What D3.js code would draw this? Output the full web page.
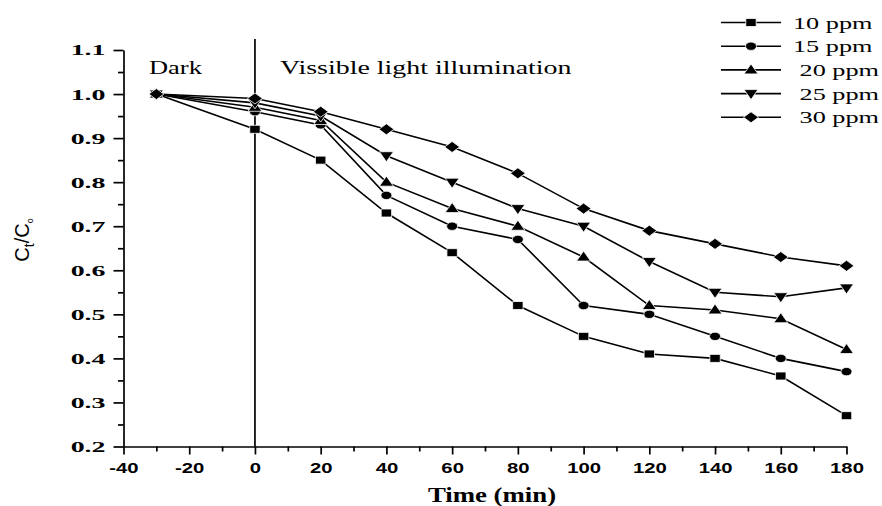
<!DOCTYPE html>
<html>
<head>
<meta charset="utf-8">
<script src="https://cdn.jsdelivr.net/npm/d3@7"></script>
<style>
  body { margin: 0; background: #fff; }
  svg { display: block; }
  text { fill: #000; }
</style>
</head>
<body>
<svg id="chart" width="882" height="506"></svg>
<script>
// Sampling times (min); -30 is the dark adsorption step
const times = [-30, 0, 20, 40, 60, 80, 100, 120, 140, 160, 180];

// Ct/C0 for each initial dye concentration
const ppm10 = [1.00, 0.92, 0.85, 0.73, 0.64, 0.52, 0.45, 0.41, 0.40, 0.36, 0.27];
const ppm15 = [1.00, 0.96, 0.93, 0.77, 0.70, 0.67, 0.52, 0.50, 0.45, 0.40, 0.37];
const ppm20 = [1.00, 0.97, 0.94, 0.80, 0.74, 0.70, 0.63, 0.52, 0.51, 0.49, 0.42];
const ppm25 = [1.00, 0.98, 0.95, 0.86, 0.80, 0.74, 0.70, 0.62, 0.55, 0.54, 0.56];
const ppm30 = [1.00, 0.99, 0.96, 0.92, 0.88, 0.82, 0.74, 0.69, 0.66, 0.63, 0.61];

const seriesNames = ["10 ppm", "15 ppm", " 20 ppm", " 25 ppm", " 30 ppm"];
const seriesValues = [ppm10, ppm15, ppm20, ppm25, ppm30];
const seriesSymbols = ["square", "circle", "triangleUp", "triangleDown", "diamond"];

const xTickValues = [-40, -20, 0, 20, 40, 60, 80, 100, 120, 140, 160, 180];
const xMinorValues = [-30, -10, 10, 30, 50, 70, 90, 110, 130, 150, 170];
const yTickValues = [0.2, 0.3, 0.4, 0.5, 0.6, 0.7, 0.8, 0.9, 1.0, 1.1];
const yMinorValues = [0.25, 0.35, 0.45, 0.55, 0.65, 0.75, 0.85, 0.95, 1.05];

const svg = d3.select("#chart");
const serif = "'Liberation Serif', 'Times New Roman', serif";
const sans = "'Liberation Sans', Arial, sans-serif";

const x = d3.scaleLinear().domain([-40, 180]).range([123.5, 846.5]);
const y = d3.scaleLinear().domain([0.2, 1.1]).range([446.5, 50]);

// Marker outlines, centred on the data point
const symbolPath = {
  square: "M-5.2,-4h10.4v8h-10.4Z",
  circle: "M-5.5,0a5.5,4.2 0 1,0 11,0a5.5,4.2 0 1,0 -11,0Z",
  triangleUp: "M0,-6L7,4L-7,4Z",
  triangleDown: "M0,6L7,-4L-7,-4Z",
  diamond: "M0,-5.5L7.5,0L0,5.5L-7.5,0Z"
};

// ---- x axis ----
const gx = svg.append("g")
  .attr("transform", `translate(0,${y(0.2)})`)
  .call(d3.axisBottom(x).tickValues(xTickValues).tickSize(8).tickSizeOuter(0).tickFormat(d => String(d)));
gx.select(".domain").attr("stroke-width", 1.7);
gx.selectAll(".tick line").attr("stroke-width", 1.7);
gx.selectAll(".tick text")
  .attr("font-family", sans).attr("font-weight", "bold").attr("font-size", 14)
  .attr("y", 0).attr("dy", 0)
  .attr("transform", "translate(0,26.5) scale(1.45,1)");

const gxMinor = svg.append("g")
  .attr("transform", `translate(0,${y(0.2)})`)
  .call(d3.axisBottom(x).tickValues(xMinorValues).tickSize(5).tickFormat(""));
gxMinor.select(".domain").remove();
gxMinor.selectAll(".tick line").attr("stroke-width", 1.7);

// ---- y axis ----
const gy = svg.append("g")
  .attr("transform", `translate(${x(-40)},0)`)
  .call(d3.axisLeft(y).tickValues(yTickValues).tickSize(10).tickSizeOuter(0).tickFormat(d3.format(".1f")));
gy.select(".domain").attr("stroke-width", 1.7);
gy.selectAll(".tick line").attr("stroke-width", 1.7);
gy.selectAll(".tick text")
  .attr("font-family", serif).attr("font-weight", "bold").attr("font-size", 15.5)
  .attr("x", 0).attr("text-anchor", "end")
  .attr("transform", "translate(-18,0) scale(1.8,1)");

const gyMinor = svg.append("g")
  .attr("transform", `translate(${x(-40)},0)`)
  .call(d3.axisLeft(y).tickValues(yMinorValues).tickSize(5.5).tickFormat(""));
gyMinor.select(".domain").remove();
gyMinor.selectAll(".tick line").attr("stroke-width", 1.7);

// ---- dark / light divider at t = 0 ----
svg.append("line")
  .attr("x1", x(0)).attr("x2", x(0))
  .attr("y1", 39).attr("y2", y(0.2))
  .attr("stroke", "#000").attr("stroke-width", 1.7);

svg.append("text")
  .attr("transform", "translate(149,74) scale(1.47,1)")
  .attr("font-family", serif).attr("font-size", 18)
  .text("Dark");
svg.append("text")
  .attr("transform", "translate(280,74) scale(1.47,1)")
  .attr("font-family", serif).attr("font-size", 19)
  .text("Vissible light illumination");

// ---- series ----
const line = d3.line().x(d => x(d.t)).y(d => y(d.v));
const series = seriesValues.map((vals, i) => ({
  name: seriesNames[i],
  symbol: seriesSymbols[i],
  points: times.map((t, j) => ({ t, v: vals[j] }))
}));

svg.append("g").selectAll("path")
  .data(series).join("path")
  .attr("d", s => line(s.points))
  .attr("fill", "none").attr("stroke", "#000").attr("stroke-width", 1.6);

series.forEach(s => {
  svg.append("g").selectAll("path")
    .data(s.points).join("path")
    .attr("transform", d => `translate(${x(d.t)},${y(d.v)})`)
    .attr("d", symbolPath[s.symbol])
    .attr("fill", "#000").attr("stroke", "#fff").attr("stroke-width", 0.8);
});

// ---- axis titles ----
svg.append("text")
  .attr("transform", "translate(492,502) scale(1.34,1)")
  .attr("text-anchor", "middle")
  .attr("font-family", serif).attr("font-weight", "bold").attr("font-size", 20)
  .text("Time (min)");

const yt = svg.append("text")
  .attr("transform", "translate(29,240) rotate(-90)")
  .attr("text-anchor", "middle")
  .attr("font-family", sans).attr("font-size", 20);
yt.append("tspan").text("C");
yt.append("tspan").attr("font-size", 14).attr("dy", 5).text("t");
yt.append("tspan").attr("dy", -5).text("/C");
yt.append("tspan").attr("font-size", 9).attr("dy", 4).text("o");

// ---- legend ----
const legend = svg.append("g");
series.forEach((s, i) => {
  const ry = 22.5 + i * 23.7;
  const row = legend.append("g").attr("transform", `translate(0,${ry})`);
  row.append("line").attr("x1", 721).attr("x2", 781).attr("y1", 0).attr("y2", 0)
    .attr("stroke", "#000").attr("stroke-width", 1.6);
  row.append("path").attr("transform", "translate(751,0)")
    .attr("d", symbolPath[s.symbol])
    .attr("fill", "#000").attr("stroke", "#fff").attr("stroke-width", 0.8);
  row.append("text")
    .attr("transform", "translate(793,6) scale(1.5,1)")
    .attr("font-family", serif).attr("font-size", 17.5)
    .style("white-space", "pre")
    .text(s.name);
});
</script>
</body>
</html>
